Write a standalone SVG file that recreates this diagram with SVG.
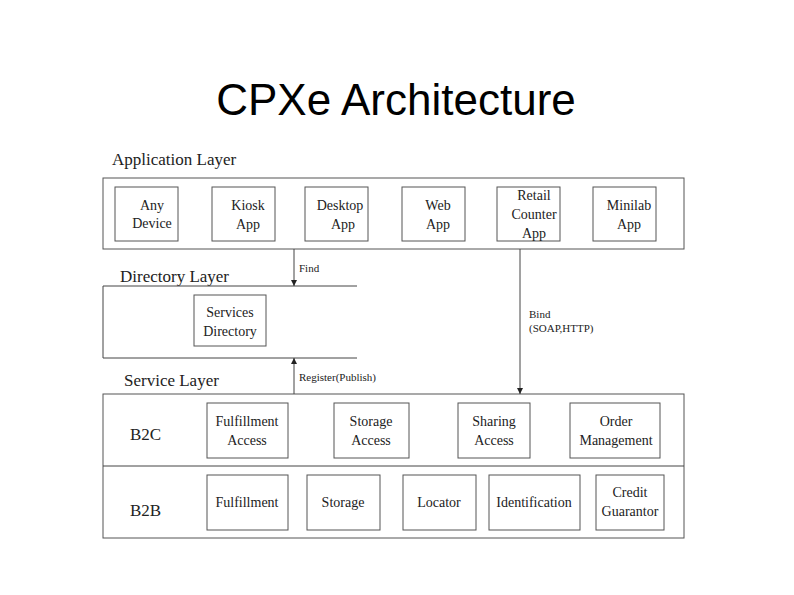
<svg xmlns="http://www.w3.org/2000/svg" width="794" height="595" viewBox="0 0 794 595">
<style>
.b{fill:#fff;stroke:#555;stroke-width:1}
.t{font-size:14px;fill:#222;text-anchor:middle}
.l{font-size:17px;fill:#222}
.s{font-size:11px;fill:#222}
.c{stroke:#444;stroke-width:1;fill:none}
</style>
<defs><marker id="a" viewBox="0 0 10 10" refX="10" refY="5" markerWidth="6" markerHeight="8" orient="auto"><path d="M0,0L10,5L0,10z" fill="#222"/></marker></defs>
<rect width="794" height="595" fill="#fff"/>
<text x="396" y="115" font-family="'Liberation Sans',Arial,sans-serif" font-size="44" text-anchor="middle" fill="#000">CPXe Architecture</text>
<g font-family="'Liberation Serif','DejaVu Serif','Times New Roman',serif">
<g id="app-layer">
<text class="l" x="112" y="165">Application Layer</text>
<rect class="b" x="103" y="178" width="581" height="71"/>
</g>
<g id="any"><rect class="b" x="115" y="187" width="63" height="54"/><text class="t" x="152" y="210">Any</text><text class="t" x="152" y="228">Device</text></g>
<g id="kiosk"><rect class="b" x="212" y="187" width="63" height="54"/><text class="t" x="248" y="210">Kiosk</text><text class="t" x="248" y="229">App</text></g>
<g id="desktop"><rect class="b" x="305" y="187" width="63" height="54"/><text class="t" x="340" y="210">Desktop</text><text class="t" x="343" y="229">App</text></g>
<g id="web"><rect class="b" x="402" y="187" width="63" height="54"/><text class="t" x="438" y="210">Web</text><text class="t" x="438" y="229">App</text></g>
<g id="retail"><rect class="b" x="497" y="187" width="63" height="54"/><text class="t" x="534" y="200">Retail</text><text class="t" x="534" y="219">Counter</text><text class="t" x="534" y="238">App</text></g>
<g id="minilab"><rect class="b" x="593" y="187" width="63" height="54"/><text class="t" x="629" y="210">Minilab</text><text class="t" x="629" y="229">App</text></g>
<g id="dir-layer">
<text class="l" x="120" y="282">Directory Layer</text>
<path class="c" d="M357,286H103V358H357"/>
</g>
<g id="services-dir"><rect class="b" x="194" y="295" width="72" height="51"/><text class="t" x="230" y="317">Services</text><text class="t" x="230" y="336">Directory</text></g>
<g id="svc-layer">
<text class="l" x="124" y="386">Service Layer</text>
<rect class="b" x="103" y="394" width="581" height="144"/>
<line class="c" x1="103" y1="466" x2="684" y2="466"/>
<text class="l" x="130" y="440" font-size="19">B2C</text>
<text class="l" x="130" y="516" font-size="19">B2B</text>
</g>
<g id="fa"><rect class="b" x="207" y="403" width="81" height="55"/><text class="t" x="247" y="426">Fulfillment</text><text class="t" x="247" y="445">Access</text></g>
<g id="sa"><rect class="b" x="334" y="403" width="75" height="55"/><text class="t" x="371" y="426">Storage</text><text class="t" x="371" y="445">Access</text></g>
<g id="sha"><rect class="b" x="458" y="403" width="72" height="55"/><text class="t" x="494" y="426">Sharing</text><text class="t" x="494" y="445">Access</text></g>
<g id="om"><rect class="b" x="570" y="403" width="90" height="55"/><text class="t" x="616" y="426">Order</text><text class="t" x="616" y="445">Management</text></g>
<g id="f"><rect class="b" x="207" y="475" width="81" height="55"/><text class="t" x="247" y="507">Fulfillment</text></g>
<g id="st"><rect class="b" x="307" y="475" width="73" height="55"/><text class="t" x="343" y="507">Storage</text></g>
<g id="loc"><rect class="b" x="403" y="475" width="73" height="55"/><text class="t" x="439" y="507">Locator</text></g>
<g id="id"><rect class="b" x="489" y="475" width="91" height="55"/><text class="t" x="534" y="507">Identification</text></g>
<g id="cg"><rect class="b" x="596" y="475" width="68" height="55"/><text class="t" x="630" y="497">Credit</text><text class="t" x="630" y="516">Guarantor</text></g>
<g id="connectors">
<line class="c" x1="294" y1="249" x2="294" y2="286" marker-end="url(#a)"/>
<text class="s" x="299" y="272">Find</text>
<line class="c" x1="294" y1="394" x2="294" y2="358" marker-end="url(#a)"/>
<text class="s" x="299" y="381">Register(Publish)</text>
<line class="c" x1="520" y1="249" x2="520" y2="394" marker-end="url(#a)"/>
<text class="s" x="529" y="318">Bind</text>
<text class="s" x="529" y="332">(SOAP,HTTP)</text>
</g>
</g>
</svg>
